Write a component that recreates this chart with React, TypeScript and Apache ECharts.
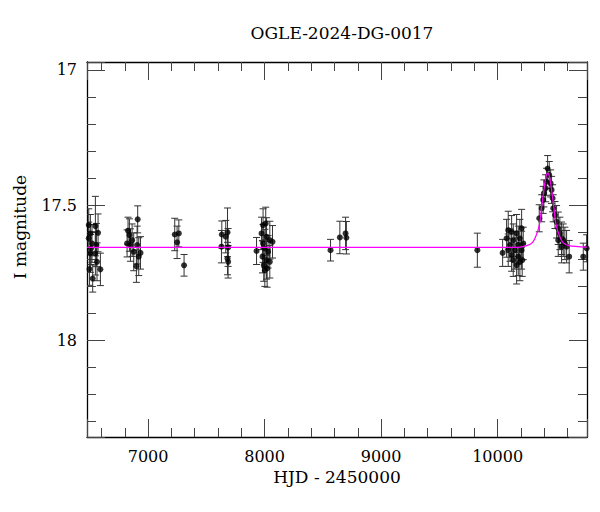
import React, { useEffect, useRef } from "react";
import * as echarts from "echarts";

const TITLE = "OGLE-2024-DG-0017";
const X_NAME = "HJD - 2450000";
const Y_NAME = "I magnitude";

const X_MIN = 6476;
const X_MAX = 10767;
const Y_MIN = 16.971;
const Y_MAX = 18.358;

const hjd = [
  6491, 6505, 6548, 6571, 6491, 6519, 6557, 6511, 6505, 6548, 6562, 6497, 6591, 6525,
  6911, 6828, 6840, 6820, 6863, 6849, 6906, 6877, 6935, 6920, 6900,
  7229, 7264, 7249, 7309,
  7633, 7682, 7667, 7630, 7687, 7682, 7687,
  7931, 7987, 8010, 7974, 8017, 8045, 7987, 8068, 8002, 8030, 7982, 8017, 8045, 7993, 8022, 8002,
  8566, 8646, 8695, 8702,
  9826,
  10043, 10091, 10120, 10163, 10206, 10077, 10134, 10191, 10106, 10177, 10220, 10091, 10148, 10206, 10120, 10177, 10134, 10191, 10163, 10211,
  10357, 10378, 10391, 10397, 10412, 10420, 10429, 10443, 10455, 10463, 10472, 10477, 10492, 10506, 10520, 10534, 10549, 10563, 10577, 10592, 10614, 10549, 10520, 10735, 10764,
];

const mag = [
  17.574, 17.605, 17.578, 17.603, 17.623, 17.642, 17.648, 17.66, 17.679, 17.679, 17.71, 17.737, 17.738, 17.772,
  17.553, 17.595, 17.611, 17.642, 17.63, 17.648, 17.648, 17.673, 17.677, 17.691, 17.726,
  17.609, 17.605, 17.638, 17.723,
  17.609, 17.601, 17.617, 17.654, 17.657, 17.698, 17.71,
  17.67, 17.574, 17.568, 17.605, 17.617, 17.63, 17.642, 17.636, 17.66, 17.673, 17.691, 17.704, 17.71, 17.722, 17.734, 17.741,
  17.667, 17.62, 17.605, 17.621,
  17.667,
  17.677, 17.593, 17.599, 17.605, 17.586, 17.623, 17.63, 17.623, 17.648, 17.648, 17.642, 17.667, 17.667, 17.667, 17.685, 17.691, 17.704, 17.71, 17.722, 17.704,
  17.549, 17.512, 17.481, 17.457, 17.438, 17.414, 17.365, 17.389, 17.42, 17.444, 17.475, 17.512, 17.537, 17.562, 17.586, 17.605, 17.623, 17.63, 17.642, 17.654, 17.691, 17.654, 17.63, 17.691, 17.66,
];

const err = [
  0.06, 0.07, 0.11, 0.07, 0.06, 0.07, 0.08, 0.06, 0.07, 0.08, 0.07, 0.06, 0.06, 0.05,
  0.05, 0.05, 0.06, 0.05, 0.06, 0.06, 0.07, 0.07, 0.06, 0.07, 0.06,
  0.06, 0.05, 0.06, 0.04,
  0.05, 0.09, 0.06, 0.06, 0.07, 0.06, 0.06,
  0.05, 0.06, 0.06, 0.06, 0.07, 0.07, 0.07, 0.06, 0.07, 0.06, 0.06, 0.07, 0.06, 0.06, 0.07, 0.06,
  0.04, 0.06, 0.06, 0.06,
  0.063,
  0.05, 0.07, 0.06, 0.07, 0.07, 0.07, 0.06, 0.07, 0.06, 0.07, 0.06, 0.06, 0.07, 0.07, 0.06, 0.07, 0.06, 0.07, 0.07, 0.06,
  0.05, 0.05, 0.05, 0.05, 0.05, 0.05, 0.048, 0.05, 0.05, 0.05, 0.05, 0.05, 0.05, 0.06, 0.06, 0.06, 0.06, 0.06, 0.06, 0.06, 0.06, 0.06, 0.06, 0.05, 0.05,
];

const modelT = [
  6476, 10150, 10250, 10300, 10333, 10360, 10377, 10392, 10405, 10418, 10430,
  10442, 10455, 10468, 10483, 10500, 10527, 10560, 10610, 10767,
];
const modelMag = [
  17.657, 17.657, 17.65, 17.638, 17.61, 17.57, 17.51, 17.46, 17.42, 17.39, 17.383,
  17.39, 17.42, 17.46, 17.51, 17.57, 17.61, 17.638, 17.65, 17.656,
];

const FONT = "DejaVu Serif";

export default function App() {
  const ref = useRef<HTMLDivElement>(null);
  useEffect(() => {
    if (!ref.current) return;
    const chart = echarts.init(ref.current, null, { renderer: "svg" });
    const points = hjd.map((t, i) => [t, mag[i], err[i]]);
    const model = modelT.map((t, i) => [t, modelMag[i]]);

    const axisCommon = {
      type: "value" as const,
      axisLine: { show: true, onZero: false, lineStyle: { color: "#000", width: 1.3 } },
      axisTick: { show: true, inside: true, length: 18, lineStyle: { color: "#444", width: 1 } },
      minorTick: { show: true, splitNumber: 5, length: 9, lineStyle: { color: "#444", width: 1 } },
      splitLine: { show: false },
      minorSplitLine: { show: false },
    };

    chart.setOption({
      animation: false,
      backgroundColor: "#fff",
      title: {
        text: TITLE,
        left: 337,
        top: 19,
        textAlign: "center",
        textStyle: { fontFamily: FONT, fontSize: 17, fontWeight: "normal", color: "#000" },
      },
      graphic: [
        {
          type: "text",
          x: 20,
          y: 227,
          rotation: Math.PI / 2,
          style: {
            text: Y_NAME,
            font: `17px "${FONT}"`,
            fill: "#000",
            textAlign: "center",
            textVerticalAlign: "middle",
          },
        },
      ],
      grid: { left: 87, right: 13, top: 62, bottom: 75, containLabel: false },
      xAxis: [
        {
          ...axisCommon,
          position: "bottom",
          min: X_MIN,
          max: X_MAX,
          splitNumber: 5,
          axisLabel: {
            show: true,
            showMinLabel: false,
            showMaxLabel: false,
            margin: 11,
            fontFamily: FONT,
            fontSize: 16,
            color: "#000",
            formatter: (v: number) => String(v),
          },
          name: X_NAME,
          nameLocation: "middle",
          nameGap: 30,
          nameTextStyle: { fontFamily: FONT, fontSize: 17, color: "#000" },
        },
        {
          ...axisCommon,
          position: "top",
          min: X_MIN,
          max: X_MAX,
          splitNumber: 5,
          axisLabel: { show: false },
        },
      ],
      yAxis: [
        {
          ...axisCommon,
          position: "left",
          inverse: true,
          min: Y_MIN,
          max: Y_MAX,
          splitNumber: 3,
          axisLabel: {
            show: true,
            showMinLabel: false,
            showMaxLabel: false,
            margin: 10,
            fontFamily: FONT,
            fontSize: 16,
            color: "#000",
            formatter: (v: number) => String(v),
          },
        },
        {
          ...axisCommon,
          position: "right",
          inverse: true,
          min: Y_MIN,
          max: Y_MAX,
          splitNumber: 3,
          axisLabel: { show: false },
        },
      ],
      series: [
        {
          type: "custom",
          name: "errors",
          xAxisIndex: 0,
          yAxisIndex: 0,
          clip: true,
          data: points,
          renderItem: (params: any, api: any) => {
            const x = api.value(0);
            const y = api.value(1);
            const e = api.value(2);
            const top = api.coord([x, y - e]);
            const bot = api.coord([x, y + e]);
            const w = 3.5;
            const style = { stroke: "#333", lineWidth: 1 };
            return {
              type: "group",
              children: [
                { type: "line", shape: { x1: top[0], y1: top[1], x2: bot[0], y2: bot[1] }, style },
                { type: "line", shape: { x1: top[0] - w, y1: top[1], x2: top[0] + w, y2: top[1] }, style },
                { type: "line", shape: { x1: bot[0] - w, y1: bot[1], x2: bot[0] + w, y2: bot[1] }, style },
              ],
            };
          },
          z: 2,
        },
        {
          type: "scatter",
          name: "points",
          xAxisIndex: 0,
          yAxisIndex: 0,
          data: points.map((p) => [p[0], p[1]]),
          symbol: "circle",
          symbolSize: 6,
          itemStyle: { color: "#000" },
          clip: true,
          z: 3,
        },
        {
          type: "line",
          name: "model",
          xAxisIndex: 0,
          yAxisIndex: 0,
          data: model,
          showSymbol: false,
          smooth: 0.25,
          lineStyle: { color: "#ff00ff", width: 1.2 },
          clip: true,
          z: 4,
        },
      ],
    });
    return () => chart.dispose();
  }, []);
  return <div ref={ref} style={{ width: 600, height: 512, margin: -8 }} />;
}
